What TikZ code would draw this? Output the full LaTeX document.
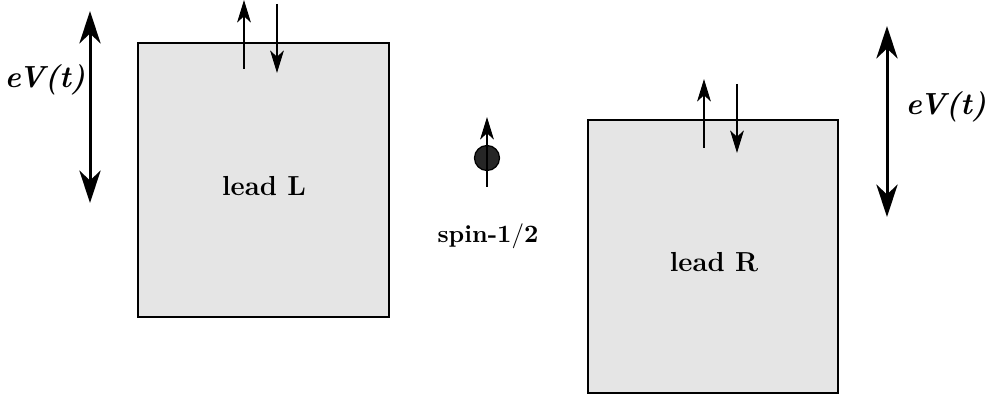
\documentclass[tikz,border=0pt]{standalone}
\usepackage{amsmath}
\usetikzlibrary{arrows.meta}
\begin{document}
\begin{tikzpicture}[x=0.4pt,y=-0.4pt,
  lead/.style={draw=black,line width=0.8pt,fill=black!10,minimum width=100pt,minimum height=109.5pt,inner sep=0pt},
  bias/.style={line width=1.2pt,{Stealth[length=13pt,width=8.5pt,inset=4pt]}-{Stealth[length=13pt,width=8.5pt,inset=4pt]}},
  spinarrow/.style={line width=0.7pt,-{Stealth[length=9pt,width=5.5pt,inset=2.5pt]}},
  label/.style={font=\fontsize{12.2}{14}\selectfont\bfseries\itshape,inner sep=0pt}]
\useasboundingbox (0,0) rectangle (989,399);
% leads
\node[lead] (L) at (263.5,180) {};
\node[lead] (R) at (713,256.5) {};
\node[font=\fontsize{11}{13}\selectfont\bfseries] (Ltext) at (264,186) {lead L};
\node[font=\fontsize{11}{13}\selectfont\bfseries] (Rtext) at (714,262) {lead R};
% spin states on the left lead
\coordinate (Lu0) at (244,69); \coordinate (Lu1) at (244,0);
\coordinate (Ld0) at (277,4);  \coordinate (Ld1) at (277,73);
\draw[spinarrow] (Lu0) -- (Lu1);
\draw[spinarrow] (Ld0) -- (Ld1);
% spin states on the right lead
\coordinate (Ru0) at (704,148); \coordinate (Ru1) at (704,79);
\coordinate (Rd0) at (737,84);  \coordinate (Rd1) at (737,153);
\draw[spinarrow] (Ru0) -- (Ru1);
\draw[spinarrow] (Rd0) -- (Rd1);
% bias voltages
\coordinate (VL0) at (90,11);  \coordinate (VL1) at (90,203);
\coordinate (VR0) at (887,26); \coordinate (VR1) at (887,217);
\draw[bias] (VL0) -- (VL1);
\draw[bias] (VR0) -- (VR1);
\node[label] (VLt) at (45,80) {eV(t)};
\node[label] (VRt) at (946,107) {eV(t)};
% impurity spin
\node[circle,draw=black,line width=0.5pt,fill=black!85,minimum size=10pt,inner sep=0pt] (S) at (487,158) {};
\coordinate (S0) at (487,187); \coordinate (S1) at (487,117);
\draw[spinarrow] (S0) -- (S1);
\node[font=\fontsize{9.8}{11}\selectfont\bfseries] (St) at (488,236) {spin-$\mathbf{1/2}$};
\end{tikzpicture}
\end{document}
